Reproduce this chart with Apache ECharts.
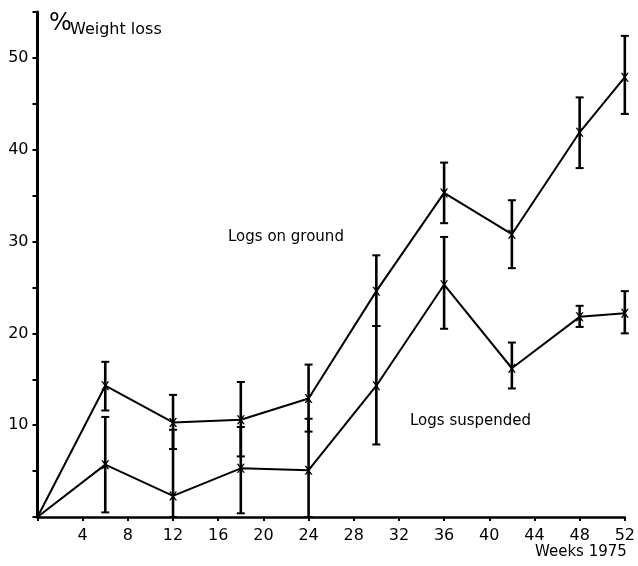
<!DOCTYPE html>
<html>
<head>
<meta charset="utf-8">
<script src="https://cdn.jsdelivr.net/npm/echarts@6/dist/echarts.min.js"></script>
<style>html,body{margin:0;padding:0;background:#fff}#c{width:638px;height:566px}</style>
</head>
<body>
<div id="c"></div>
<script>
var weeks = [0, 6, 12, 18, 24, 30, 36, 42, 48, 52];
var ground = [0, 14.3, 10.3, 10.6, 12.9, 24.6, 35.3, 30.8, 41.9, 47.9];
var groundLow = [null, 11.6, 7.4, 6.6, 9.3, 20.8, 32.0, 27.1, 38.0, 43.9];
var groundHigh = [null, 16.9, 13.3, 14.7, 16.6, 28.5, 38.6, 34.5, 45.7, 52.4];
var suspended = [0, 5.7, 2.3, 5.3, 5.1, 14.3, 25.3, 16.2, 21.8, 22.2];
var suspLow = [null, 0.5, 0, 0.4, 0, 7.9, 20.5, 14.0, 20.7, 20.0];
var suspHigh = [null, 10.9, 9.5, 9.8, 10.7, 20.8, 30.5, 19.0, 23.0, 24.6];
var yTickLabels = [10, 20, 30, 40, 50];

var FONT = '"DejaVu Sans"';
var xSym = 'path://M0,0 L2,0 L5,3.6 L8,0 L10,0 L6,5 L10,10 L8,10 L5,6.4 L2,10 L0,10 L4,5 Z';

function lineData(vals) {
  return weeks.map(function (w, i) {
    if (i === 0) return { value: [w, vals[i]], symbol: 'none' };
    return [w, vals[i]];
  });
}
function errData(lo, hi) {
  var out = [];
  for (var i = 0; i < weeks.length; i++) {
    if (lo[i] == null) continue;
    out.push([weeks[i], lo[i], hi[i]]);
  }
  return out;
}
function renderErr(params, api) {
  var x = api.value(0);
  var p1 = api.coord([x, api.value(1)]);
  var p2 = api.coord([x, api.value(2)]);
  var cw = 4;
  var st = { stroke: '#000', lineWidth: 2.6 };
  return {
    type: 'group',
    children: [
      { type: 'line', shape: { x1: p1[0], y1: p1[1], x2: p2[0], y2: p2[1] }, style: st },
      { type: 'line', shape: { x1: p1[0] - cw, y1: p1[1], x2: p1[0] + cw, y2: p1[1] }, style: { stroke: '#000', lineWidth: 2 } },
      { type: 'line', shape: { x1: p2[0] - cw, y1: p2[1], x2: p2[0] + cw, y2: p2[1] }, style: { stroke: '#000', lineWidth: 2 } }
    ]
  };
}

var chart = echarts.init(document.getElementById('c'));
chart.setOption({
  animation: false,
  backgroundColor: '#fff',
  grid: { left: 37.5, right: 9, top: 12, bottom: 49 },
  xAxis: {
    type: 'value', min: 0, max: 52, interval: 4,
    axisLine: { lineStyle: { color: '#000', width: 2.5 } },
    axisTick: { show: true, length: 4, lineStyle: { color: '#000', width: 2 } },
    axisLabel: {
      color: '#000', fontFamily: 'DejaVu Sans', fontSize: 16, margin: 11,
      formatter: function (v) { return v === 0 ? '' : String(v); }
    },
    splitLine: { show: false }
  },
  yAxis: {
    type: 'value', min: 0, max: 55, interval: 5,
    axisLine: { show: true, lineStyle: { color: '#000', width: 3 } },
    axisTick: { show: true, length: 5, lineStyle: { color: '#000', width: 2 } },
    axisLabel: {
      color: '#000', fontFamily: 'DejaVu Sans', fontSize: 16, margin: 9,
      formatter: function (v) { return yTickLabels.indexOf(v) >= 0 ? String(v) : ''; }
    },
    splitLine: { show: false }
  },
  series: [
    {
      type: 'custom', renderItem: renderErr, data: errData(groundLow, groundHigh),
      encode: { x: 0, y: [1, 2] }, z: 1
    },
    {
      type: 'custom', renderItem: renderErr, data: errData(suspLow, suspHigh),
      encode: { x: 0, y: [1, 2] }, z: 1
    },
    {
      name: 'Logs on ground', type: 'line', data: lineData(ground),
      symbol: xSym, symbolSize: [8, 9], showAllSymbol: true,
      lineStyle: { color: '#000', width: 2 },
      itemStyle: { color: '#000' }, z: 3
    },
    {
      name: 'Logs suspended', type: 'line', data: lineData(suspended),
      symbol: xSym, symbolSize: [8, 9], showAllSymbol: true,
      lineStyle: { color: '#000', width: 2 },
      itemStyle: { color: '#000' }, z: 3
    }
  ],
  graphic: [
    { type: 'text', left: 49, top: 12, style: { text: '%', font: '24px ' + FONT, fill: '#000' } },
    { type: 'text', left: 70, top: 22, style: { text: 'Weight loss', font: '16px ' + FONT, fill: '#000' } },
    { type: 'text', left: 228, top: 230, style: { text: 'Logs on ground', font: '15px ' + FONT, fill: '#000' } },
    { type: 'text', left: 410, top: 414, style: { text: 'Logs suspended', font: '15px ' + FONT, fill: '#000' } },
    { type: 'text', left: 535, top: 545, style: { text: 'Weeks 1975', font: '15px ' + FONT, fill: '#000' } }
  ]
});
</script>
</body>
</html>
